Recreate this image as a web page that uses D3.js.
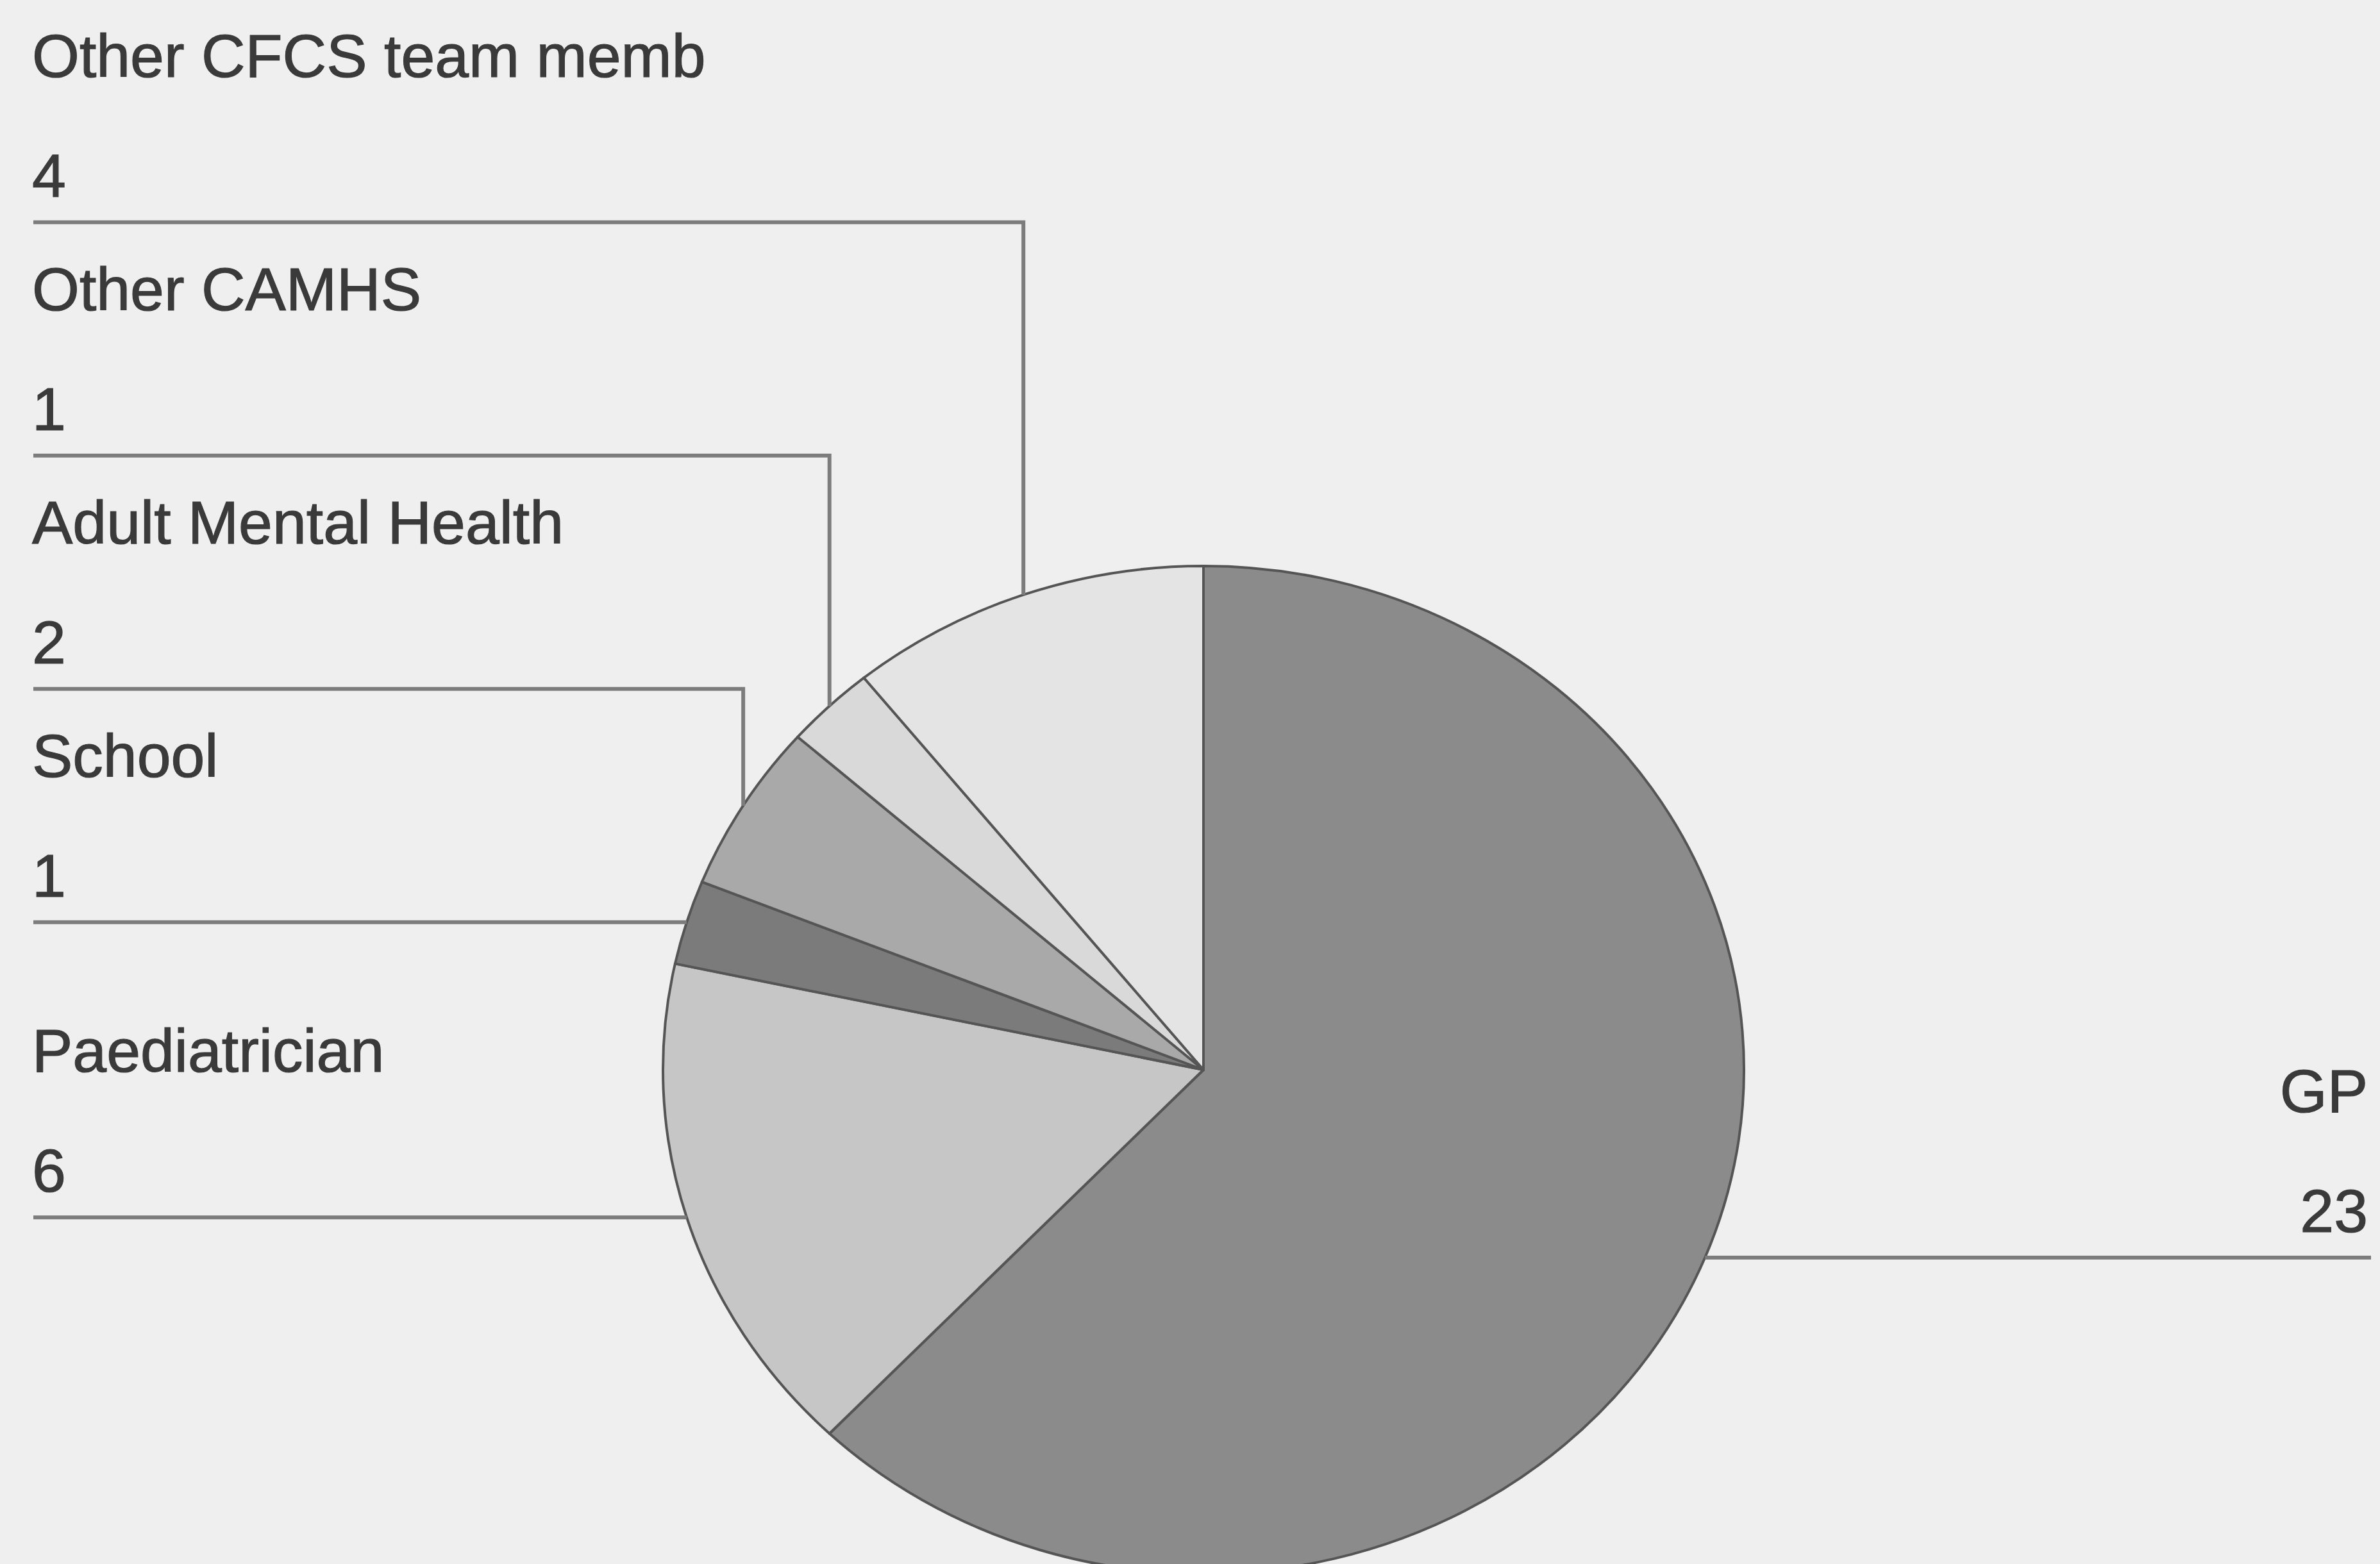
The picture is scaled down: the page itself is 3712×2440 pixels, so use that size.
<!DOCTYPE html>
<html>
<head>
<meta charset="utf-8">
<title>Referral sources</title>
<script src="https://d3js.org/d3.v7.min.js"></script>
<style>
	html, body { margin: 0; padding: 0; background: #efefef; }
	svg { display: block; }
	text { font-family: "Liberation Sans", Arial, sans-serif; fill: #3a3a3a; stroke: #3a3a3a; stroke-width: 1.2; }
</style>
</head>
<body>
<div id="chart"></div>
<script>

	// data, in the order drawn clockwise from 12 o'clock
	var categories = ["GP", "Paediatrician", "School", "Adult Mental Health", "Other CAMHS", "Other CFCS team memb"];
	var counts = [23, 6, 1, 2, 1, 4];
	var shades = ["#8b8b8b", "#c6c6c6", "#7b7b7b", "#a9a9a9", "#d9d9d9", "#e4e4e4"];

	var W = 3712, H = 2440;
	var cx = 1877, cy = 1669;     // pie centre
	var rx = 843, ry = 786;       // scanned pie is a little squashed
	var squash = ry / rx;
	var labelGap = 364;           // vertical spacing of stacked left labels

	var svg = d3.select("#chart").append("svg")
		.attr("width", W)
		.attr("height", H);

	svg.append("rect").attr("width", W).attr("height", H).attr("fill", "#efefef");

	var slices = d3.pie().sort(null).value(function(d){ return d; })(counts);
	var arc = d3.arc().innerRadius(0).outerRadius(rx);

	var colour = d3.scaleOrdinal().domain(categories).range(shades);

	var pieG = svg.append("g")
		.attr("transform", "translate(" + cx + "," + cy + ") scale(1," + squash + ")");

	pieG.selectAll("path")
		.data(slices)
		.enter()
		.append("path")
		.attr("d", arc)
		.attr("fill", function(d, i){ return colour(categories[i]); })
		.attr("stroke", "#555")
		.attr("stroke-width", 4)
		.attr("stroke-linejoin", "round")
		.attr("vector-effect", "non-scaling-stroke");

	// anchor point on the rim at each slice's middle angle
	var labels = slices.map(function(d, i) {
		var a = (d.startAngle + d.endAngle) / 2;
		return {
			name: categories[i],
			value: counts[i],
			ax: cx + rx * Math.sin(a),
			ay: cy - ry * Math.cos(a),
			right: Math.sin(a) > 0
		};
	});

	// stack the left labels from the bottom up so they never overlap
	var left = labels.filter(function(d){ return !d.right; })
		.sort(function(a, b){ return b.ay - a.ay; });
	var prev = Infinity;
	left.forEach(function(d) {
		d.ly = Math.min(d.ay, prev - labelGap);
		prev = d.ly;
	});
	labels.filter(function(d){ return d.right; }).forEach(function(d){ d.ly = d.ay; });

	var leaders = svg.append("g")
		.attr("fill", "none")
		.attr("stroke", "#7c7c7c")
		.attr("stroke-width", 6);

	leaders.selectAll("path")
		.data(labels)
		.enter()
		.append("path")
		.attr("d", function(d) {
			var endX = d.right ? 3698 : 52;
			return "M" + d.ax + "," + d.ay + "L" + d.ax + "," + d.ly + "L" + endX + "," + d.ly;
		});

	var txt = svg.append("g").attr("font-size", 95);

	txt.selectAll("text.name")
		.data(labels)
		.enter()
		.append("text")
		.attr("class", "name")
		.attr("x", function(d){ return d.right ? 3693 : 50; })
		.attr("y", function(d){ return d.ly - 227; })
		.attr("text-anchor", function(d){ return d.right ? "end" : "start"; })
		.text(function(d){ return d.name; });

	txt.selectAll("text.value")
		.data(labels)
		.enter()
		.append("text")
		.attr("class", "value")
		.attr("x", function(d){ return d.right ? 3693 : 50; })
		.attr("y", function(d){ return d.ly - 40; })
		.attr("text-anchor", function(d){ return d.right ? "end" : "start"; })
		.text(function(d){ return d.value; });

</script>
</body>
</html>
